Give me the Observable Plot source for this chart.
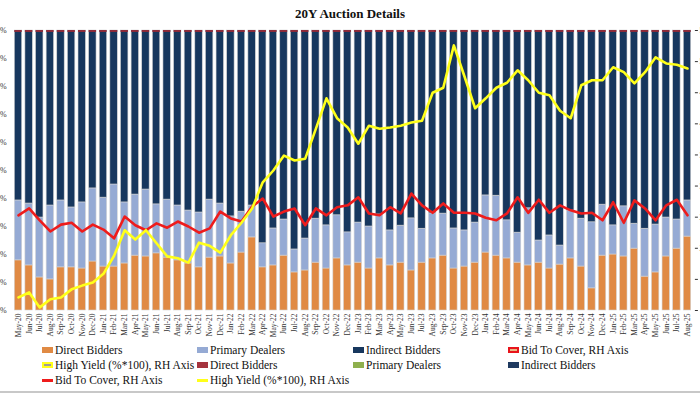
<!DOCTYPE html>
<html><head><meta charset="utf-8">
<script src="https://cdn.jsdelivr.net/npm/d3@7"></script>
<script src="https://cdn.jsdelivr.net/npm/@observablehq/plot@0.6"></script>
<style>
html,body{margin:0;padding:0;background:#fff;width:700px;height:394px;overflow:hidden;position:relative;font-family:"Liberation Serif","Times New Roman",serif;}
#title{position:absolute;top:0;left:0;width:700px;height:28px;line-height:28px;text-align:center;font-weight:bold;font-size:13px;color:#111;}
#chart{position:absolute;top:26px;left:-30px;}
.leg{position:absolute;font-size:11.5px;white-space:nowrap;line-height:14px;color:#111;}
.sw{display:inline-block;width:11px;height:6px;margin-right:2px;vertical-align:middle;position:relative;top:-1px;box-sizing:border-box;}
.ln{display:inline-block;width:11px;height:3px;margin-right:2px;vertical-align:middle;position:relative;top:-1px;}
#bottomline{position:absolute;left:0;top:391px;width:700px;height:2px;background:#c8c8c8;}
</style>
</head><body>
<div id="title">20Y Auction Details</div>
<div id="chart"></div>
<div id="legend"></div>
<div id="bottomline"></div>
<script>
const months = ["May-20","Jun-20","Jul-20","Aug-20","Sep-20","Oct-20","Nov-20","Dec-20",
"Jan-21","Feb-21","Mar-21","Apr-21","May-21","Jun-21","Jul-21","Aug-21","Sep-21","Oct-21","Nov-21","Dec-21",
"Jan-22","Feb-22","Mar-22","Apr-22","May-22","Jun-22","Jul-22","Aug-22","Sep-22","Oct-22","Nov-22","Dec-22",
"Jan-23","Feb-23","Mar-23","Apr-23","May-23","Jun-23","Jul-23","Aug-23","Sep-23","Oct-23","Nov-23","Dec-23",
"Jan-24","Feb-24","Mar-24","Apr-24","May-24","Jun-24","Jul-24","Aug-24","Sep-24","Oct-24","Nov-24","Dec-24",
"Jan-25","Feb-25","Mar-25","Apr-25","May-25","Jun-25","Jul-25","Aug-25"];

const directBidders = [17.9,16.1,11.8,11.1,15.4,15.4,15.0,17.5,
15.7,15.7,16.8,19.6,19.3,20.4,18.9,17.9,16.8,15.4,18.9,19.3,
16.8,20.7,26.1,15.4,16.1,19.6,13.6,14.3,17.1,15.0,18.6,16.1,
17.1,15.0,18.6,16.1,17.1,14.3,17.1,18.6,19.6,15.0,15.7,17.1,
20.7,19.6,18.6,17.1,16.1,17.1,15.0,16.4,18.6,15.7,7.9,19.6,
20.0,19.3,22.1,12.1,13.6,19.3,22.1,26.4];

const primaryDealers = [21.4,22.1,21.4,26.4,23.9,21.4,23.6,26.1,
24.6,29.3,21.8,21.8,23.9,17.5,20.7,19.6,18.9,19.6,20.7,18.9,
16.8,14.6,11.4,8.6,13.2,12.9,8.2,11.4,15.7,15.4,15.4,11.8,
14.3,15.0,15.7,12.5,13.2,18.6,12.1,16.1,15.0,14.3,12.9,14.3,
20.4,21.4,13.6,10.7,20.4,7.9,11.8,6.8,17.1,17.1,23.6,18.2,
10.4,17.9,8.9,17.1,17.1,13.9,10.4,12.9];

const indirectBidders = [60.7,61.8,66.8,62.5,60.7,63.2,61.4,56.4,
59.7,55.0,61.4,58.6,56.8,62.1,60.4,62.5,64.3,65.0,60.4,61.8,
66.4,64.7,62.5,76.0,70.7,67.5,78.2,74.3,67.2,69.6,66.0,72.1,
68.6,70.0,65.7,71.4,69.7,67.1,70.8,65.3,65.4,70.7,71.4,68.6,
58.9,59.0,67.8,72.2,63.5,75.0,73.2,76.8,64.3,67.2,68.5,62.2,
69.6,62.8,69.0,70.8,69.3,66.8,67.5,60.7];

const bidToCover = [2.53,2.64,2.45,2.27,2.38,2.41,2.27,2.38,
2.30,2.16,2.51,2.37,2.29,2.40,2.33,2.43,2.35,2.25,2.32,2.59,
2.48,2.43,2.67,2.80,2.51,2.59,2.64,2.37,2.64,2.53,2.66,2.69,
2.82,2.56,2.53,2.66,2.56,2.88,2.69,2.57,2.72,2.57,2.57,2.56,
2.49,2.45,2.56,2.82,2.57,2.78,2.57,2.69,2.61,2.56,2.57,2.45,
2.74,2.41,2.77,2.64,2.45,2.69,2.78,2.53];

const highYield = [1.21,1.29,1.05,1.18,1.21,1.34,1.40,1.45,
1.59,1.88,2.29,2.14,2.29,2.08,1.87,1.84,1.77,2.09,2.04,1.93,
2.21,2.41,2.64,3.06,3.25,3.49,3.41,3.44,3.92,4.41,4.09,3.94,
3.68,3.97,3.92,3.94,3.97,4.02,4.05,4.50,4.58,5.26,4.76,4.25,
4.41,4.58,4.66,4.86,4.70,4.50,4.46,4.21,4.09,4.62,4.70,4.70,
4.91,4.83,4.65,4.83,5.07,4.97,4.95,4.89];

const leftTicks = [0,10,20,30,40,50,60,70,80,90,100];
const rightTicks = [1.0,1.5,2.0,2.5,3.0,3.5,4.0,4.5,5.0,5.5];
const rightMin = 1.0, rightMax = 5.5;

const seriesNames = ["Direct Bidders","Primary Dealers","Indirect Bidders"];
const seriesColors = ["#E08A44","#95AAD4","#17375E"];
const seriesData = [directBidders, primaryDealers, indirectBidders];

const toPct = v => (v - rightMin) / (rightMax - rightMin) * 100;
const fromPct = p => rightMin + p / 100 * (rightMax - rightMin);

const stacked = seriesNames.flatMap((name, k) =>
  months.map((m, i) => ({month: m, series: name, value: seriesData[k][i]})));
const table = months.map((m, i) => ({month: m, btc: bidToCover[i], hy: highYield[i]}));

const chart = Plot.plot({
  width: 760,
  height: 314,
  marginTop: 4,
  marginBottom: 30,
  marginLeft: 41.1,
  marginRight: 36.1,
  style: {fontFamily: "'Liberation Serif','Times New Roman',serif", fontSize: "8px", color: "#333", background: "transparent", maxWidth: "none", overflow: "visible"},
  x: {type: "band", domain: months, padding: 0.3, label: null},
  y: {domain: [0, 100], label: null},
  color: {domain: seriesNames, range: seriesColors},
  marks: [
    Plot.barY(stacked, {x: "month", y: "value", fill: "series", order: seriesNames, stroke: "#d4d4d4", strokeWidth: 0.6}),
    Plot.barY(months, {x: d => d, y1: 99.3, y2: 100, fill: "#8E2B3A"}),
    Plot.line(table, {x: "month", y: d => toPct(d.btc), stroke: "#EE1C1C", strokeWidth: 2.6, strokeLinejoin: "round"}),
    Plot.line(table, {x: "month", y: d => toPct(d.hy), stroke: "#FFFF1A", strokeWidth: 2.6, strokeLinejoin: "round"}),
    Plot.axisY({anchor: "left", ticks: leftTicks, tickFormat: d => d + "%", tickSize: 0, tickPadding: 5, label: null, fontSize: 8}),
    Plot.axisY({anchor: "right", ticks: rightTicks.map(toPct), tickFormat: p => fromPct(p).toFixed(1), tickSize: 3, tickPadding: 2, label: null, fontSize: 8}),
    Plot.axisX({tickRotate: -90, tickSize: 0, tickPadding: 3, label: null, fontSize: 7.5})
  ]
});
chart.style.maxWidth = "none";
chart.style.display = "block";
document.getElementById("chart").appendChild(chart);

// legend
const cols = [42, 197, 353, 508];
const rows = [343, 358, 373];
const legendItems = [
  {r:0,c:0,label:"Direct Bidders",type:"sw",fill:"#E08A44"},
  {r:0,c:1,label:"Primary Dealers",type:"sw",fill:"#95AAD4"},
  {r:0,c:2,label:"Indirect Bidders",type:"sw",fill:"#17375E"},
  {r:0,c:3,label:"Bid To Cover, RH Axis",type:"sw",fill:"#E6BA86",border:"#E8141B"},
  {r:1,c:0,label:"High Yield (%*100), RH Axis",type:"sw",fill:"#9C9C9C",border:"#FFFF1A"},
  {r:1,c:1,label:"Direct Bidders",type:"sw",fill:"#A5343E"},
  {r:1,c:2,label:"Primary Dealers",type:"sw",fill:"#8FB04E"},
  {r:1,c:3,label:"Indirect Bidders",type:"sw",fill:"#1F3A60"},
  {r:2,c:0,label:"Bid To Cover, RH Axis",type:"ln",fill:"#EE1C1C"},
  {r:2,c:1,label:"High Yield (%*100), RH Axis",type:"ln",fill:"#FFFF1A"}
];
const leg = document.getElementById("legend");
legendItems.forEach(it => {
  const d = document.createElement("div");
  d.className = "leg";
  d.style.left = cols[it.c] + "px";
  d.style.top = rows[it.r] + "px";
  const s = document.createElement("span");
  s.className = it.type;
  s.style.background = it.fill;
  if (it.border) s.style.border = "2px solid " + it.border;
  d.appendChild(s);
  d.appendChild(document.createTextNode(it.label));
  leg.appendChild(d);
});
</script>
</body></html>
